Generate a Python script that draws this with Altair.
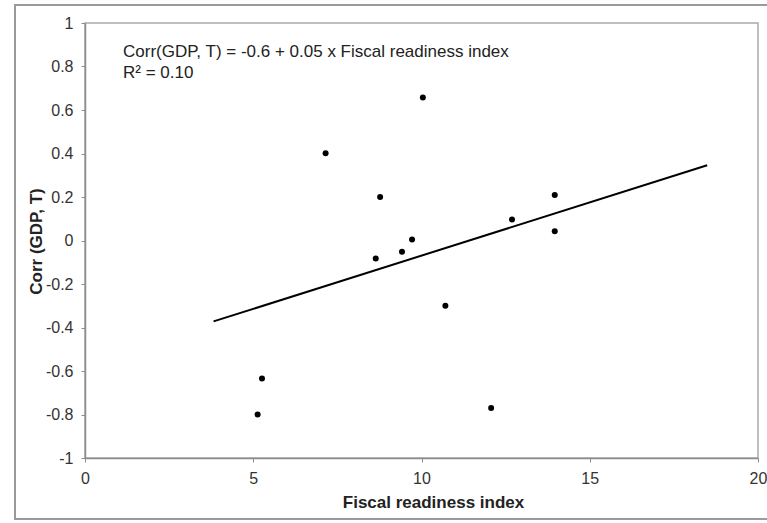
import altair as alt
import pandas as pd

# Values
fiscal_readiness = [10.04, 7.15, 8.77, 9.72, 9.42, 8.64, 10.71, 5.26, 5.13, 12.07, 12.69, 13.96, 13.96]
corr_gdp_t = [0.658, 0.401, 0.200, 0.005, -0.052, -0.083, -0.300, -0.634, -0.800, -0.770, 0.097, 0.209, 0.043]
fit_x = [3.82, 18.49]
fit_y = [-0.372, 0.346]
x_ticks = [0, 5, 10, 15, 20]
y_ticks = [-1, -0.8, -0.6, -0.4, -0.2, 0, 0.2, 0.4, 0.6, 0.8, 1]
annotation = ["Corr(GDP, T) = -0.6 + 0.05 x Fiscal readiness index", "R\u00b2 = 0.10"]
x_title = "Fiscal readiness index"
y_title = "Corr (GDP, T)"

pts = pd.DataFrame({"x": fiscal_readiness, "y": corr_gdp_t})
fit = pd.DataFrame({"x": fit_x, "y": fit_y})
one = pd.DataFrame({"a": [0]})

FONT = "Liberation Sans"
AXIS_GREY = "#8c8c8c"

x_scale = alt.Scale(domain=[0, 20], nice=False, zero=False)
y_scale = alt.Scale(domain=[-1, 1], nice=False, zero=False)

x_axis = alt.Axis(
    title=x_title, values=x_ticks, grid=False, tickSize=4, labelPadding=8,
    labelFontSize=16, labelFont=FONT, labelColor="#333333", labelOverlap=False,
    labelFlush=False, titleFont=FONT, titleFontSize=17, titleFontWeight="bold",
    titleColor="#222222", titleX=348, titleY=44, titleBaseline="middle",
    domainColor=AXIS_GREY, tickColor=AXIS_GREY, domainWidth=1.5,
    labelExpr="toString(datum.value)",
)
y_axis = alt.Axis(
    title=y_title, values=y_ticks, grid=False, tickSize=4, labelPadding=8,
    labelFontSize=16, labelFont=FONT, labelColor="#333333", labelOverlap=False,
    labelFlush=False, titleFont=FONT, titleFontSize=17, titleFontWeight="bold",
    titleColor="#222222", titleAngle=270, titleX=-49, titleY=218,
    titleAlign="center", titleBaseline="middle",
    domainColor=AXIS_GREY, tickColor=AXIS_GREY, domainWidth=1.5,
    labelExpr="toString(datum.value)",
)

frame = alt.Chart(one).mark_rect(fillOpacity=0, stroke="#9a9a9a", strokeWidth=2).encode(
    x=alt.value(-70), x2=alt.value(690), y=alt.value(-18), y2=alt.value(496)
)

line = alt.Chart(fit).mark_line(color="black", strokeWidth=2).encode(
    x=alt.X("x:Q", scale=x_scale, axis=x_axis),
    y=alt.Y("y:Q", scale=y_scale, axis=y_axis),
)

points = alt.Chart(pts).mark_circle(size=36, color="black", opacity=1).encode(
    x=alt.X("x:Q", scale=x_scale, axis=x_axis),
    y=alt.Y("y:Q", scale=y_scale, axis=y_axis),
)

text = alt.Chart(one).mark_text(
    text=annotation, align="left", baseline="alphabetic", fontSize=17,
    font=FONT, lineHeight=21, color="#222222",
).encode(x=alt.value(38), y=alt.value(34))

chart = alt.layer(frame, line, points, text).properties(
    width=673, height=435,
    autosize=alt.AutoSizeParams(type="none"),
    padding={"left": 85, "top": 23, "right": 9, "bottom": 65},
    background="white",
).configure_view(stroke="#aaaaaa", strokeWidth=1.5)

chart.save("out.html", embed_options={"renderer": "svg", "actions": False})
